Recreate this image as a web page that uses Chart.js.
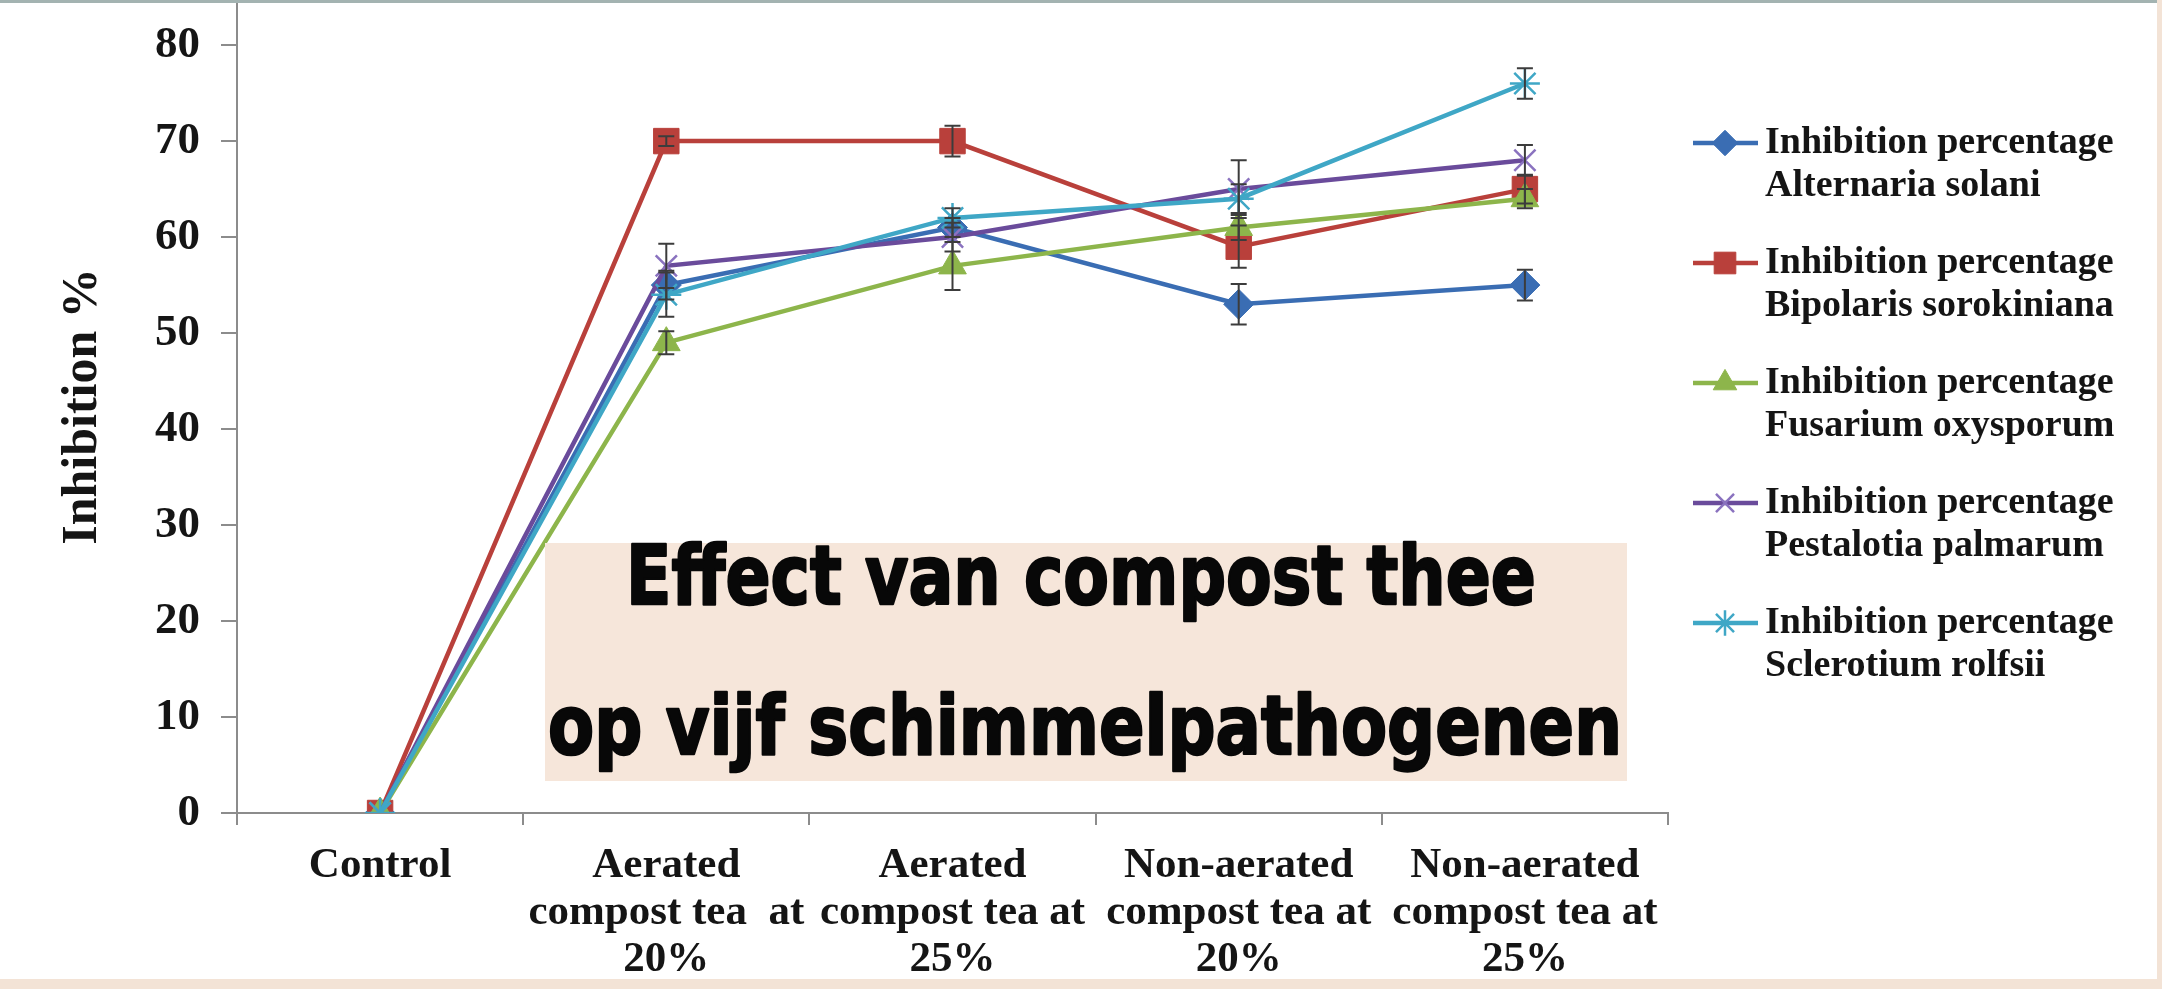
<!DOCTYPE html>
<html><head><meta charset="utf-8">
<script src="https://cdn.jsdelivr.net/npm/chart.js@4.4.1/dist/chart.umd.min.js"></script>
<style>
html,body{margin:0;padding:0;background:#fff;}
#wrap{position:relative;width:2162px;height:989px;overflow:hidden;background:#fff;}
#c{position:absolute;left:0;top:0;}
.topline{position:absolute;left:0;top:0;width:2162px;height:3px;background:#a3b3b1;}
.bottom{position:absolute;left:0;bottom:0;width:2162px;height:10px;background:#f3e3d6;}
.right{position:absolute;right:0;top:0;width:5px;height:989px;background:#f3e3d6;}
</style></head>
<body><div id="wrap"><canvas id="c" width="2162" height="989"></canvas><div class="topline"></div><div class="right"></div><div class="bottom"></div></div>
<script>
// ---- data ----
const categories = [
  ["Control"],
  ["Aerated", "compost tea  at", "20%"],
  ["Aerated", "compost tea at", "25%"],
  ["Non-aerated", "compost tea at", "20%"],
  ["Non-aerated", "compost tea at", "25%"]
];
const seriesNames = ["Alternaria solani", "Bipolaris sorokiniana", "Fusarium oxysporum", "Pestalotia palmarum", "Sclerotium rolfsii"];
const legendPrefix = "Inhibition percentage";
const alternaria = [0, 55, 61, 53, 55];
const bipolaris  = [0, 70, 70, 59, 65];
const fusarium   = [0, 49, 57, 61, 64];
const pestalotia = [0, 57, 60, 65, 68];
const sclerotium = [0, 54, 62, 64, 76];
const alternariaErr = [0, 1.5, 1.0, 2.1, 1.6];
const bipolarisErr  = [0, 0.5, 1.6, 2.2, 1.5];
const fusariumErr   = [0, 1.2, 2.5, 1.3, 1.0];
const pestalotiaErr = [0, 2.3, 1.5, 3.0, 1.6];
const sclerotiumErr = [0, 2.3, 1.0, 1.5, 1.6];
const yTickValues = [0, 10, 20, 30, 40, 50, 60, 70, 80];
const yTitle = "Inhibition %";
const overlayLines = ["Effect van compost thee", "op vijf schimmelpathogenen"];

const seriesValues = [alternaria, bipolaris, fusarium, pestalotia, sclerotium];
const seriesErrors = [alternariaErr, bipolarisErr, fusariumErr, pestalotiaErr, sclerotiumErr];

// ---- styles ----
const styles = [
  {line: '#3a6db3', fill: '#3a6db3', point: 'rectRot', r: 15, bw: 1},
  {line: '#b9403b', fill: '#b9403b', point: 'rect', r: 18, bw: 1},
  {line: '#8db54b', fill: '#8db54b', point: 'triangle', r: 16, bw: 1},
  {line: '#6a4b9b', fill: '#8a72bf', point: 'crossRot', r: 15, bw: 2.5},
  {line: '#3fa7c6', fill: '#3fa7c6', point: 'star', r: 15, bw: 2.5}
];
const serif = "'Liberation Serif', 'Times New Roman', serif";
const axisColor = '#8c8c8c';

const datasets = seriesValues.map((vals, i) => ({
  label: legendPrefix + ' ' + seriesNames[i],
  data: vals,
  borderColor: styles[i].line,
  backgroundColor: styles[i].fill,
  borderWidth: 4.5,
  tension: 0,
  pointStyle: styles[i].point,
  pointRadius: styles[i].r,
  pointBorderWidth: styles[i].bw,
  pointBorderColor: styles[i].point === 'crossRot' || styles[i].point === 'star' ? styles[i].fill : styles[i].line,
  pointBackgroundColor: styles[i].fill,
  order: seriesValues.length - 1 - i
}));

function ownDrawPoint(ctx, style, r, x, y) {
  ctx.beginPath();
  if (style === 'rect') {
    const s = r * Math.SQRT1_2;
    ctx.rect(x - s, y - s, 2 * s, 2 * s); ctx.fill(); ctx.stroke();
  } else if (style === 'rectRot') {
    ctx.moveTo(x, y - r); ctx.lineTo(x + r, y); ctx.lineTo(x, y + r); ctx.lineTo(x - r, y); ctx.closePath(); ctx.fill(); ctx.stroke();
  } else if (style === 'triangle') {
    ctx.moveTo(x, y - r); ctx.lineTo(x + r * 0.866, y + r * 0.5); ctx.lineTo(x - r * 0.866, y + r * 0.5); ctx.closePath(); ctx.fill(); ctx.stroke();
  } else {
    const a = r * Math.SQRT1_2;
    ctx.moveTo(x - a, y - a); ctx.lineTo(x + a, y + a); ctx.moveTo(x + a, y - a); ctx.lineTo(x - a, y + a);
    if (style === 'star') { ctx.moveTo(x, y - r); ctx.lineTo(x, y + r); ctx.moveTo(x - r, y); ctx.lineTo(x + r, y); }
    ctx.stroke();
  }
}

const errorBars = {
  id: 'errorBars',
  afterDatasetsDraw(chart) {
    const ctx = chart.ctx, ys = chart.scales.y;
    ctx.save();
    ctx.strokeStyle = '#3c3c3c';
    ctx.lineWidth = 2;
    seriesErrors.forEach((errs, i) => {
      const meta = chart.getDatasetMeta(i);
      errs.forEach((e, j) => {
        if (!e) return;
        const x = meta.data[j].x;
        const v = seriesValues[i][j];
        const y1 = ys.getPixelForValue(v + e), y2 = ys.getPixelForValue(v - e);
        ctx.beginPath();
        ctx.moveTo(x, y1); ctx.lineTo(x, y2);
        ctx.moveTo(x - 8, y1); ctx.lineTo(x + 8, y1);
        ctx.moveTo(x - 8, y2); ctx.lineTo(x + 8, y2);
        ctx.stroke();
      });
    });
    ctx.restore();
  }
};

const sideLegend = {
  id: 'sideLegend',
  afterDraw(chart) {
    const ctx = chart.ctx;
    const helperDraw = (window.Chart && Chart.helpers && Chart.helpers.drawPoint) ? Chart.helpers.drawPoint : null;
    ctx.save();
    chart.data.datasets.forEach((ds, i) => {
      const y = 143 + 120 * i;
      ctx.strokeStyle = ds.borderColor;
      ctx.lineWidth = 4.5;
      ctx.beginPath(); ctx.moveTo(1693, y); ctx.lineTo(1758, y); ctx.stroke();
      ctx.fillStyle = ds.pointBackgroundColor;
      ctx.strokeStyle = ds.pointBorderColor;
      ctx.lineWidth = ds.pointBorderWidth;
      const r = ds.pointRadius * 0.85;
      if (helperDraw) {
        helperDraw(ctx, {pointStyle: ds.pointStyle, radius: r, borderWidth: ds.pointBorderWidth, rotation: 0}, 1725, y);
      } else {
        ownDrawPoint(ctx, ds.pointStyle, r, 1725, y);
      }
      ctx.fillStyle = '#151515';
      ctx.font = 'bold 38px ' + serif;
      ctx.textAlign = 'left';
      ctx.textBaseline = 'middle';
      ctx.fillText(legendPrefix, 1765, y);
      ctx.fillText(seriesNames[i], 1765, y + 43);
    });
    ctx.restore();
  }
};

const overlay = {
  id: 'overlay',
  afterDraw(chart) {
    const ctx = chart.ctx;
    ctx.save();
    ctx.fillStyle = '#f6e6da';
    ctx.fillRect(545, 543, 1082, 238);
    ctx.fillStyle = '#080808';
    ctx.strokeStyle = '#080808';
    ctx.lineWidth = 2.5;
    ctx.lineJoin = 'round';
    ctx.font = "bold 82px 'DejaVu Sans', sans-serif";
    ctx.textAlign = 'left';
    ctx.textBaseline = 'alphabetic';
    const targets = [{w: 910, cx: 1081, base: 604}, {w: 1074, cx: 1085, base: 754}];
    overlayLines.forEach((t, k) => {
      const w = ctx.measureText(t).width;
      const sx = targets[k].w / w;
      ctx.save();
      ctx.translate(targets[k].cx - targets[k].w / 2, targets[k].base);
      ctx.scale(sx, 1);
      ctx.fillText(t, 0, 0);
      ctx.strokeText(t, 0, 0);
      ctx.restore();
    });
    ctx.restore();
  }
};

new Chart(document.getElementById('c'), {
  type: 'line',
  data: {labels: categories, datasets},
  options: {
    responsive: false,
    animation: false,
    devicePixelRatio: 1,
    layout: {autoPadding: false, padding: {left: 0, right: 494, top: 0, bottom: 0}},
    plugins: {legend: {display: false}, tooltip: {enabled: false}},
    scales: {
      x: {
        type: 'category',
        offset: true,
        grid: {display: true, drawOnChartArea: false, drawTicks: true, tickLength: 12, offset: true, color: axisColor, lineWidth: 2},
        border: {display: true, color: axisColor, width: 2},
        ticks: {color: '#151515', font: {family: serif, size: 43, weight: 'bold', lineHeight: 1.1}, padding: 17, maxRotation: 0, autoSkip: false},
        afterFit(s) { s.height = 176; s.paddingLeft = 0; s.paddingRight = 0; }
      },
      y: {
        min: 0,
        max: 84.7,
        afterBuildTicks(s) { s.ticks = yTickValues.map(v => ({value: v})); },
        grid: {display: true, drawOnChartArea: false, drawTicks: true, tickLength: 16, color: axisColor, lineWidth: 2},
        border: {display: true, color: axisColor, width: 2},
        ticks: {color: '#151515', font: {family: serif, size: 45, weight: 'bold'}, padding: 21},
        title: {display: true, text: yTitle, color: '#151515', font: {family: serif, size: 50, weight: 'bold', lineHeight: 1.2}, padding: {top: 53, bottom: 0}},
        afterFit(s) { s.width = 237; s.paddingTop = 0; s.paddingBottom = 0; }
      }
    }
  },
  plugins: [errorBars, sideLegend, overlay]
});
</script>
</body></html>
